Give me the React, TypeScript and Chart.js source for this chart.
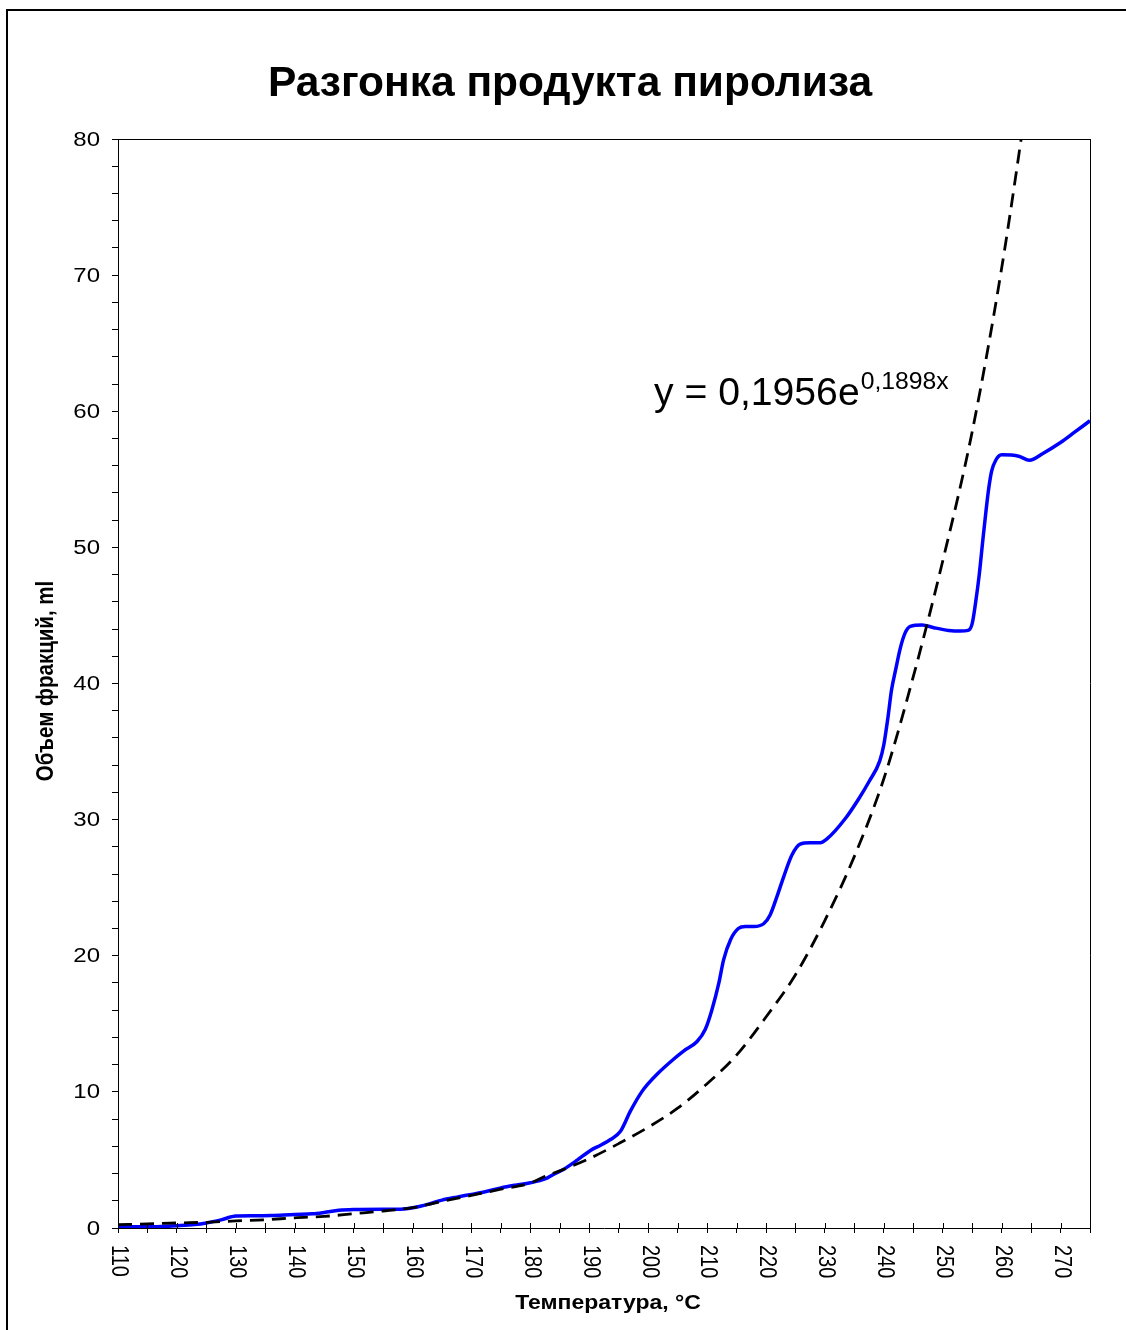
import React, { useEffect, useRef } from "react";
import { Chart, registerables } from "chart.js";

Chart.register(...registerables);

// ---- Texts ----
const TITLE = "Разгонка продукта пиролиза";
const X_TITLE = "Температура, °C";
const Y_TITLE = "Объем фракций, ml";
const EQ_MAIN = "y = 0,1956e";
const EQ_EXP = "0,1898x";

// ---- Axis ticks ----
const xTickLabels = [110, 120, 130, 140, 150, 160, 170, 180, 190, 200, 210, 220, 230, 240, 250, 260, 270];
const yTickLabels = [0, 10, 20, 30, 40, 50, 60, 70, 80];
const X_MIN = 110;
const X_MAX = 275;
const Y_MIN = 0;
const Y_MAX = 80;

// ---- Measured series (blue) ----
const blueTemps = [
  110, 113, 116, 120, 123, 125, 127.5, 130, 133, 136, 140, 143, 145, 147.5, 150, 155, 158,
  160.3, 162.7, 165, 167.5, 170, 172.5, 175, 177.5, 180, 182.5, 184, 185.6, 188, 190.2, 192,
  193.6, 195.3, 197, 198.9, 200, 201.5, 204.3, 206, 208.3, 209.7, 210.8, 212, 212.8, 214,
  215.3, 216.5, 217.9, 219.6, 220.7, 221.9, 223, 224.4, 225.8, 227.5, 229.2, 230.4, 233.5,
  235.7, 237.5, 239.3, 240, 240.7, 241.3, 242, 242.8, 243.6, 244.5, 246.5, 248.5, 251, 253,
  254.3, 255.0, 255.6, 256.2, 256.8, 257.3, 257.8, 258.3, 259.0, 260.0, 262.9, 264.7, 267, 270,
  272.5, 275,
];
const blueVolumes = [
  0.12, 0.1, 0.1, 0.17, 0.25, 0.37, 0.6, 0.88, 0.9, 0.92, 1.0, 1.04, 1.14, 1.3, 1.36, 1.38, 1.38,
  1.5, 1.75, 2.05, 2.27, 2.47, 2.68, 2.95, 3.15, 3.32, 3.6, 3.95, 4.3, 5.0, 5.7, 6.1,
  6.5, 7.1, 8.6, 10.0, 10.6, 11.3, 12.4, 13.0, 13.7, 14.6, 16.0, 18.0, 19.7, 21.2,
  22.0, 22.15, 22.15, 22.35, 23.0, 24.4, 25.8, 27.4, 28.2, 28.3, 28.3, 28.6, 30.1,
  31.5, 32.8, 34.3, 35.5, 37.5, 39.5, 41.0, 42.6, 43.7, 44.2, 44.3, 44.1, 43.9, 43.85,
  43.9, 44.4, 46.0, 48.0, 50.5, 52.5, 54.3, 55.6, 56.4, 56.8, 56.7, 56.4, 56.9, 57.7,
  58.5, 59.3,
];

// ---- Exponential trend line (dashed) ----
const trendTemps = [
  110, 115, 120, 125, 130, 135, 140, 145, 150, 155, 160, 165, 170, 175, 180, 182.5, 185,
  190, 195, 200, 205, 210, 215, 220, 225, 230, 235, 240, 245, 250, 255, 260, 265,
];
const trendVolumes = [
  0.25, 0.3, 0.37, 0.42, 0.52, 0.6, 0.75, 0.85, 1.05, 1.25, 1.5, 1.95, 2.4, 2.85, 3.3, 3.8, 4.2,
  5.1, 6.2, 7.4, 8.8, 10.6, 12.7, 15.5, 18.6, 22.6, 27.3, 33.0, 40.5, 49.0, 58.5, 70.5, 85.0,
];

const FONT = '"Liberation Sans", Arial, Helvetica, sans-serif';

function drawText(
  ctx: CanvasRenderingContext2D,
  text: string,
  x: number,
  y: number,
  font: string,
  sx: number,
  align: CanvasTextAlign,
  baseline: CanvasTextBaseline,
  rot = 0
) {
  ctx.save();
  ctx.translate(x, y);
  ctx.scale(sx, 1);
  if (rot) ctx.rotate(rot);
  ctx.font = font;
  ctx.textAlign = align;
  ctx.textBaseline = baseline;
  ctx.fillStyle = "#000";
  ctx.fillText(text, 0, 0);
  ctx.restore();
}

const decorPlugin = {
  id: "decor",
  beforeDraw(chart: any) {
    const ctx = chart.ctx as CanvasRenderingContext2D;
    ctx.save();
    ctx.fillStyle = "#fff";
    ctx.fillRect(0, 0, chart.width, chart.height);
    // outer frame (left & top edges are visible)
    ctx.fillStyle = "#000";
    ctx.fillRect(6, 9, 2, chart.height - 9);
    ctx.fillRect(6, 9, chart.width - 6, 2);
    ctx.restore();
  },
  afterDraw(chart: any) {
    const ctx = chart.ctx as CanvasRenderingContext2D;
    const area = chart.chartArea;
    const xs = chart.scales.x;
    const ys = chart.scales.y;
    ctx.save();
    // plot area box: top and right
    ctx.strokeStyle = "#000";
    ctx.lineWidth = 1;
    ctx.beginPath();
    ctx.moveTo(area.left, Math.round(area.top) + 0.5);
    ctx.lineTo(area.right, Math.round(area.top) + 0.5);
    ctx.moveTo(Math.round(area.right) + 0.5, area.top);
    ctx.lineTo(Math.round(area.right) + 0.5, area.bottom);
    ctx.stroke();
    // inner halves of x tick marks (ticks cross the axis)
    ctx.beginPath();
    for (let v = X_MIN; v <= X_MAX; v += 5) {
      const px = Math.round(xs.getPixelForValue(v)) + 0.5;
      ctx.moveTo(px, area.bottom);
      ctx.lineTo(px, area.bottom - 5);
    }
    ctx.stroke();
    ctx.restore();

    // x tick labels, rotated clockwise
    xTickLabels.forEach((v) => {
      const px = xs.getPixelForValue(v);
      drawText(ctx, String(v), px + 1, area.bottom + 17, `20px ${FONT}`, 1.2, "left", "middle", Math.PI / 2);
    });
    // y tick labels
    yTickLabels.forEach((v) => {
      const py = ys.getPixelForValue(v);
      drawText(ctx, String(v), 100, py + 1, `20px ${FONT}`, 1.2, "right", "middle");
    });
    // title
    drawText(ctx, TITLE, 570, 96, `bold 42.5px ${FONT}`, 1.0, "center", "alphabetic");
    // axis titles
    drawText(ctx, X_TITLE, 608, 1309, `bold 20px ${FONT}`, 1.15, "center", "alphabetic");
    drawText(ctx, Y_TITLE, 46, 681, `bold 20.5px ${FONT}`, 1.15, "center", "middle", -Math.PI / 2);
    // trend equation
    const sxEq = 1.03;
    ctx.save();
    ctx.font = `38px ${FONT}`;
    const w = ctx.measureText(EQ_MAIN).width * sxEq;
    ctx.restore();
    drawText(ctx, EQ_MAIN, 654, 405, `38px ${FONT}`, sxEq, "left", "alphabetic");
    drawText(ctx, EQ_EXP, 654 + w + 1, 389, `24px ${FONT}`, sxEq, "left", "alphabetic");
  },
};

export default function App() {
  const canvasRef = useRef<HTMLCanvasElement | null>(null);

  useEffect(() => {
    const canvas = canvasRef.current;
    if (!canvas) return;
    const bluePoints = blueTemps.map((t, i) => ({ x: t, y: blueVolumes[i] }));
    const trendPoints = trendTemps.map((t, i) => ({ x: t, y: trendVolumes[i] }));

    const chart = new Chart(canvas, {
      type: "line",
      data: {
        datasets: [
          {
            label: "Экспоненциальная",
            data: trendPoints,
            borderColor: "#000000",
            borderWidth: 2.8,
            borderDash: [14, 8],
            pointRadius: 0,
            cubicInterpolationMode: "monotone",
            fill: false,
          },
          {
            label: "Объем фракций",
            data: bluePoints,
            borderColor: "#0000FF",
            borderWidth: 3.5,
            pointRadius: 0,
            cubicInterpolationMode: "monotone",
            fill: false,
          },
        ],
      },
      options: {
        animation: false,
        responsive: false,
        devicePixelRatio: 1,
        layout: { padding: { left: 112, top: 139, right: 36, bottom: 97 } },
        plugins: {
          legend: { display: false },
          title: { display: false },
          tooltip: { enabled: false },
        },
        scales: {
          x: {
            type: "linear",
            min: X_MIN,
            max: X_MAX,
            ticks: { display: false, stepSize: 5 },
            grid: {
              display: true,
              drawOnChartArea: false,
              drawTicks: true,
              tickLength: 5,
              color: "#000",
              lineWidth: 1,
            },
            border: { display: true, color: "#000", width: 1 },
          },
          y: {
            type: "linear",
            min: Y_MIN,
            max: Y_MAX,
            ticks: { display: false, stepSize: 2 },
            grid: {
              display: true,
              drawOnChartArea: false,
              drawTicks: true,
              tickLength: 6,
              color: "#000",
              lineWidth: 1,
            },
            border: { display: true, color: "#000", width: 1 },
          },
        },
      },
      plugins: [decorPlugin],
    });
    return () => chart.destroy();
  }, []);

  return (
    <div style={{ position: "absolute", left: 0, top: 0, width: 1126, height: 1330, overflow: "hidden", background: "#fff" }}>
      <canvas ref={canvasRef} width={1126} height={1330} style={{ display: "block" }} />
    </div>
  );
}
